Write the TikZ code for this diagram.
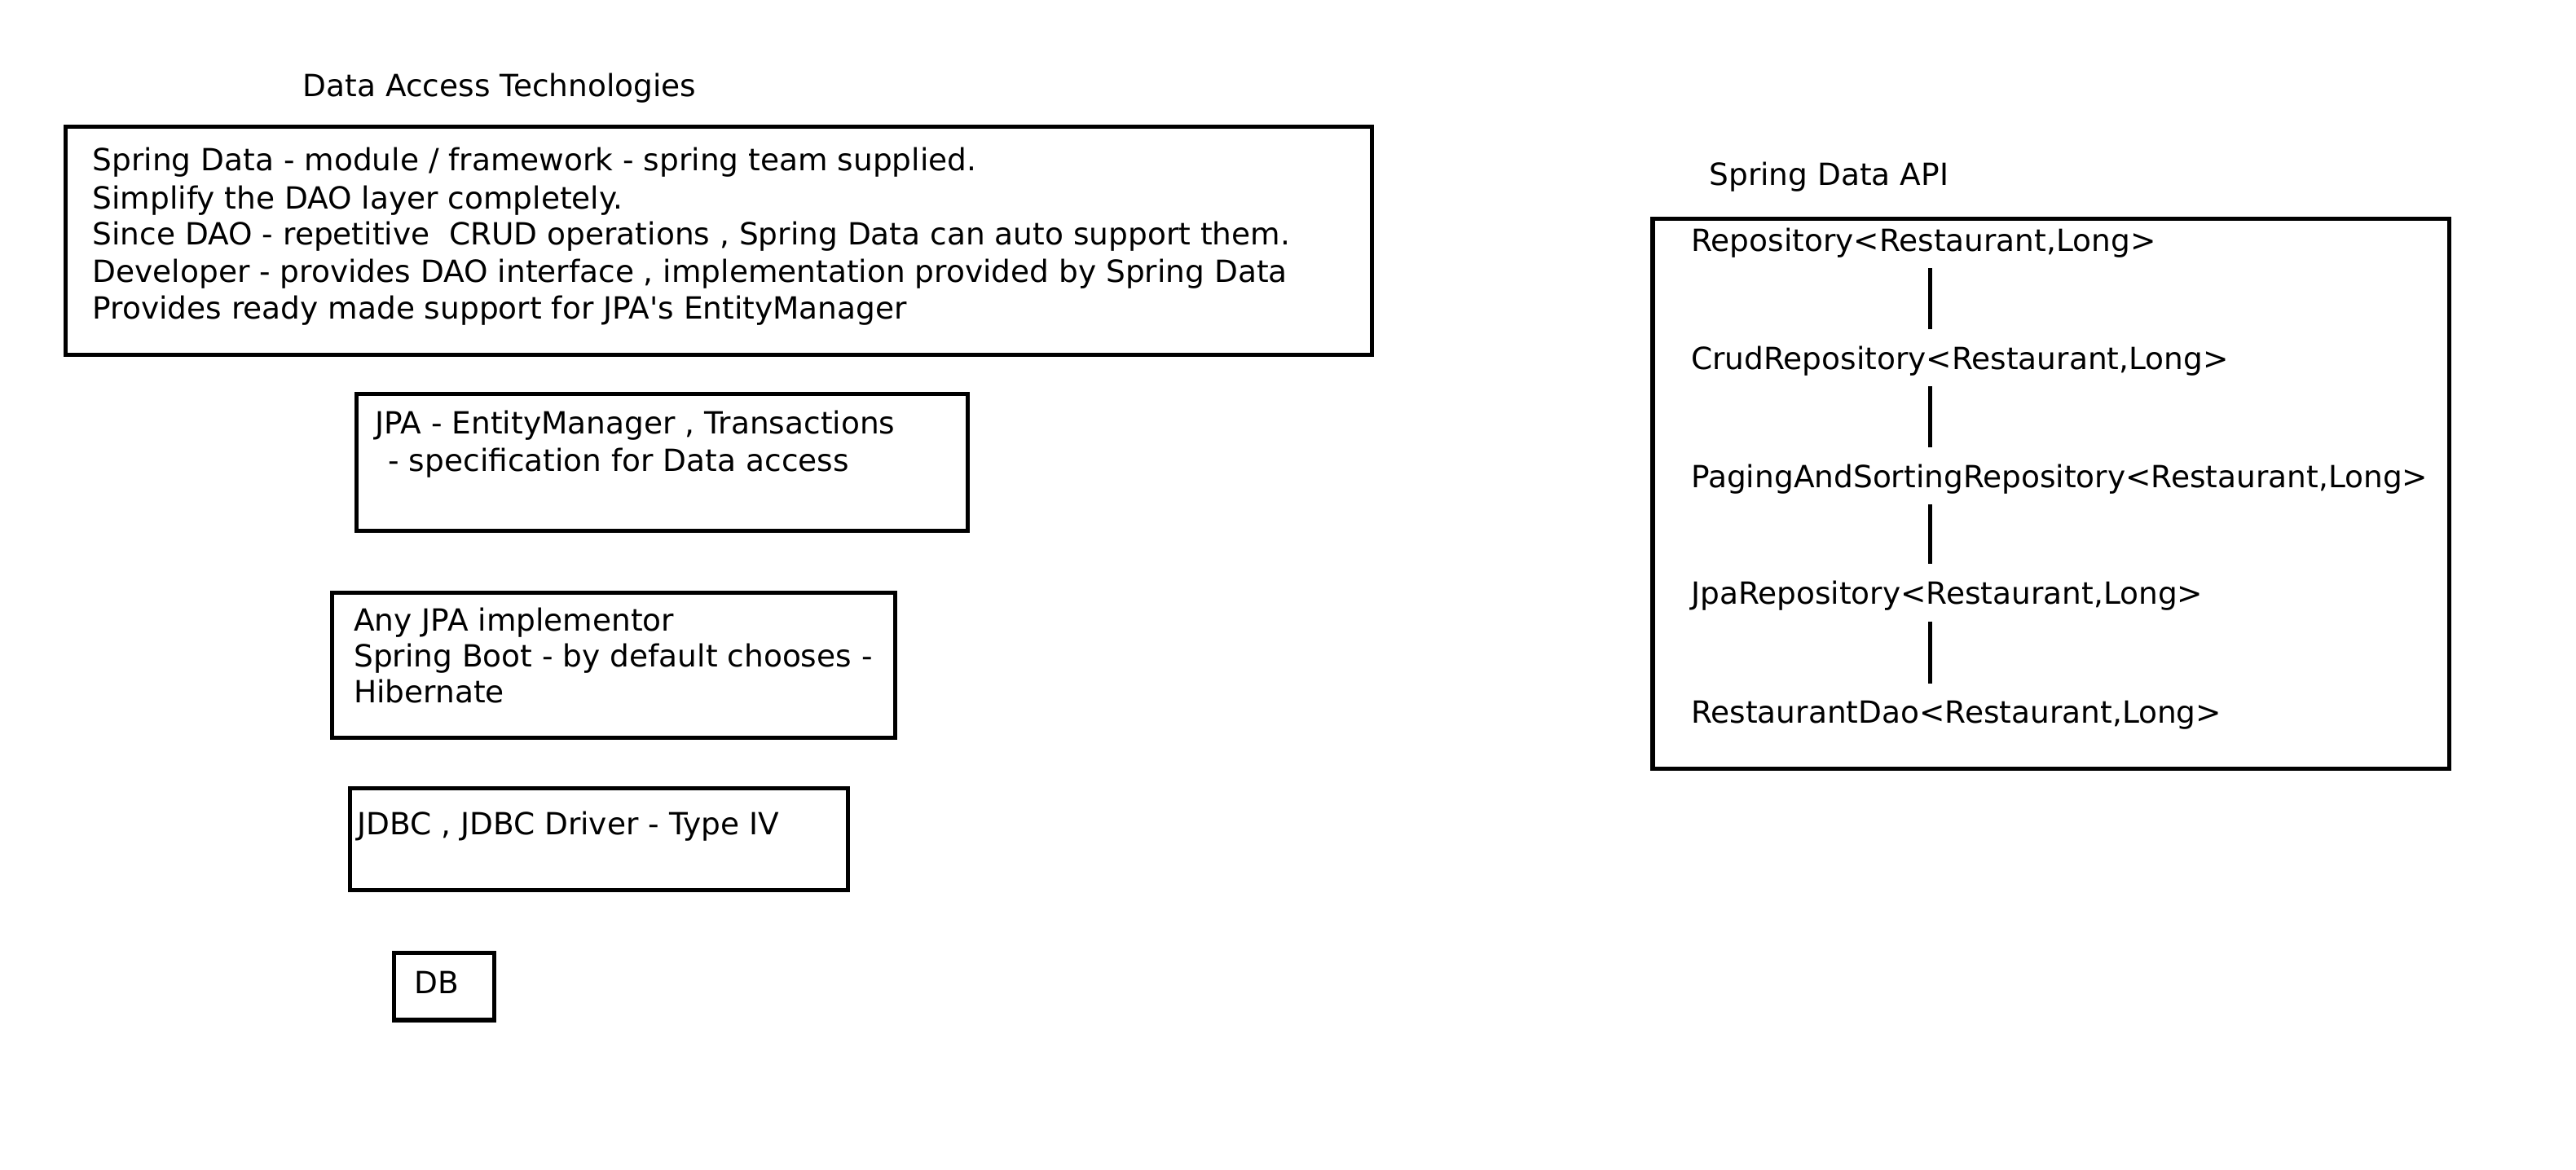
\documentclass[tikz,border=0pt]{standalone}
\usepackage{fontspec}
\setmainfont{DejaVu Sans}
\tikzset{
  box/.style={draw, line width=1.3pt},
  txt/.style={anchor=base west, inner sep=0pt, font=\fontsize{9.3}{11}\selectfont},
  link/.style={line width=1.3pt, shorten <=3pt, shorten >=5pt}
}
\begin{document}
\begin{tikzpicture}[x=0.5pt, y=-0.5pt]
  \useasboundingbox (0,0) rectangle (1568,712);

  % data access stack
  \node[txt] (datitle) at (184,59) {Data Access Technologies};

  \draw[box] (40,77) rectangle (835,216);
  \node[txt] (sd1) at (56,104) {Spring Data - module / framework - spring team supplied.};
  \node[txt] (sd2) at (56,127) {Simplify the DAO layer completely.};
  \node[txt] (sd3) at (56,149) {Since DAO - repetitive \ CRUD operations , Spring Data can auto support them.};
  \node[txt] (sd4) at (56,172) {Developer - provides DAO interface , implementation provided by Spring Data};
  \node[txt] (sd5) at (56,194) {Provides ready made support for JPA\textquotesingle s EntityManager};

  \draw[box] (217,240) rectangle (589,323);
  \node[txt] (jpa1) at (228,264) {JPA - EntityManager , Transactions};
  \node[txt] (jpa2) at (236,287) {- specification for Data access};

  \draw[box] (202,361) rectangle (545,449);
  \node[txt] (impl1) at (215,384) {Any JPA implementor};
  \node[txt] (impl2) at (215,406) {Spring Boot - by default chooses -};
  \node[txt] (impl3) at (215,428) {Hibernate};

  \draw[box] (213,480) rectangle (516,542);
  \node[txt] (jdbc) at (217,508) {JDBC , JDBC Driver - Type IV};

  \draw[box] (240,580) rectangle (301,621);
  \node[txt] (db) at (252,605) {DB};

  % spring data api
  \node[txt] (apititle) at (1040,113) {Spring Data API};

  \draw[box] (1006,133) rectangle (1491,468);
  \node[txt] (repo) at (1029,153) {Repository<Restaurant,Long>};
  \node[txt] (crud) at (1029,225) {CrudRepository<Restaurant,Long>};
  \node[txt] (paging) at (1029,297) {PagingAndSortingRepository<Restaurant,Long>};
  \node[txt] (jparepo) at (1029,368) {JpaRepository<Restaurant,Long>};
  \node[txt] (dao) at (1029,440) {RestaurantDao<Restaurant,Long>};

  \coordinate (axis) at (1175,0);
  \draw[link] (repo.south -| axis) -- (crud.north -| axis);
  \draw[link] (crud.south -| axis) -- (paging.north -| axis);
  \draw[link] (paging.south -| axis) -- (jparepo.north -| axis);
  \draw[link] (jparepo.south -| axis) -- (dao.north -| axis);
\end{tikzpicture}
\end{document}
